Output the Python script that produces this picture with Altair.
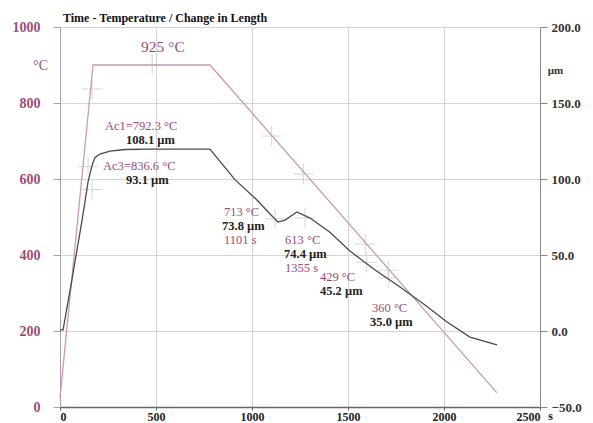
import altair as alt
import pandas as pd

# --- data ---
temp_t = [0, 172, 781, 2276]
temp_T = [24, 900, 900, 37]

len_t = [0, 16, 62, 115, 146, 167, 182, 208, 260, 339, 469, 781, 911, 1026, 1094,
         1135, 1172, 1234, 1302, 1406, 1510, 1641, 1771, 1901, 2016, 2135, 2276]
len_um = [0.7, 0.7, 33.6, 73, 98, 109, 114, 116.4, 118.4, 119.4, 119.7, 119.7, 99.6,
          86.2, 77, 71.7, 73, 78.3, 74.3, 65, 52.6, 40.1, 29, 17.1, 5.9, -4, -9.2]

tcross_t = [167, 480, 1101, 1268, 1590, 1710]
tcross_T = [836.6, 900, 713, 613, 429, 360]

lcross_t = [146, 167, 1120, 1276, 1597, 1710]
lcross_um = [108.1, 93.1, 73.8, 74.4, 45.2, 35.0]

ann_text = ["Ac1=792.3 °C", "108.1 µm", "Ac3=836.6 °C", "93.1 µm",
            "713 °C", "73.8 µm", "1101 s",
            "613 °C", "74.4 µm", "1355 s",
            "429 °C", "45.2 µm",
            "360 °C", "35.0 µm"]
ann_t = [234, 344, 224, 344, 854, 844, 854, 1172, 1167, 1172, 1354, 1354, 1625, 1615]
ann_T = [739, 702, 635, 597, 513, 476, 439, 439, 403, 366, 343, 305, 260, 224]
ann_kind = ["T", "L", "T", "L", "T", "L", "T", "T", "L", "T", "T", "L", "T", "L"]

peak_text = ["925 °C"]
peak_t = [536]
peak_T = [947]

x_ticks = [0, 500, 1000, 1500, 2000, 2500]
t_ticks = [0, 200, 400, 600, 800, 1000]
l_ticks = [-50, 0, 50, 100, 150, 200]

MAUVE = "#9a4d74"
PINK = "#c89ab6"
DARK = "#4a4a4a"
FONT = "Liberation Serif"

temp_df = pd.DataFrame({"t": temp_t, "T": temp_T})
len_df = pd.DataFrame({"t": len_t, "L": len_um})
tc_df = pd.DataFrame({"t": tcross_t, "T": tcross_T})
lc_df = pd.DataFrame({"t": lcross_t, "L": lcross_um})
ann_df = pd.DataFrame({"t": ann_t, "T": ann_T, "txt": ann_text, "kind": ann_kind})
peak_df = pd.DataFrame({"t": peak_t, "T": peak_T, "txt": peak_text})

xscale = alt.Scale(domain=[0, 2500], nice=False)
tscale = alt.Scale(domain=[0, 1000], nice=False)
lscale = alt.Scale(domain=[-50, 200], nice=False)

xaxis = alt.Axis(values=x_ticks, grid=True, gridColor="#d4d4d4", title="s",
                 format="d",
                 titleAngle=0, titleX=490, titleY=3, titleAlign="center",
                 titleBaseline="top", titleFont=FONT, titleFontSize=12,
                 titleFontWeight="bold", titleColor="#222",
                 labelFont=FONT, labelFontSize=12, labelFontWeight="bold",
                 labelColor="#222", tickColor="#666", tickSize=3, labelPadding=1,
                 domainColor="#666", domainWidth=1.5)

taxis = alt.Axis(values=t_ticks, grid=True, gridColor="#d4d4d4", title="°C",
                 format="d",
                 titleAngle=0, titleX=-20, titleY=38, titleAlign="center",
                 titleBaseline="middle", titleFont=FONT, titleFontSize=14,
                 titleFontWeight="normal", titleColor=MAUVE,
                 labelFont=FONT, labelFontSize=14, labelFontWeight="bold",
                 labelColor=MAUVE, tickColor="#b39aa8", tickSize=7,
                 domainColor="#b39aa8", labelPadding=13)

laxis = alt.Axis(values=l_ticks, grid=False, title="µm", orient="right",
                 format=".1f", titleAngle=0, titleX=15, titleY=43,
                 titleAlign="center", titleBaseline="middle", titleFont=FONT,
                 titleFontSize=11, titleFontWeight="bold", titleColor="#333",
                 labelFont=FONT, labelFontSize=13, labelFontWeight="bold",
                 labelColor="#333", tickColor="#888", tickSize=7,
                 domainColor="#888", labelPadding=4)

CROSS = "M-1,0L1,0M0,-1L0,1"

temp_line = alt.Chart(temp_df).mark_line(color=PINK, strokeWidth=1.3).encode(
    x=alt.X("t:Q", scale=xscale, axis=xaxis),
    y=alt.Y("T:Q", scale=tscale, axis=taxis),
)
temp_cross = alt.Chart(tc_df).mark_point(shape=CROSS, size=420, color="#c8c8c8",
                                         strokeWidth=1, filled=False).encode(
    x=alt.X("t:Q", scale=xscale),
    y=alt.Y("T:Q", scale=tscale),
)
ann_T_layer = alt.Chart(ann_df).transform_filter(alt.datum.kind == "T").mark_text(
    align="left", baseline="middle", font=FONT, fontSize=12.5, color=MAUVE).encode(
    x=alt.X("t:Q", scale=xscale),
    y=alt.Y("T:Q", scale=tscale),
    text="txt:N",
)
ann_L_layer = alt.Chart(ann_df).transform_filter(alt.datum.kind == "L").mark_text(
    align="left", baseline="middle", font=FONT, fontSize=12.5, fontWeight="bold",
    color="#222").encode(
    x=alt.X("t:Q", scale=xscale),
    y=alt.Y("T:Q", scale=tscale),
    text="txt:N",
)
peak = alt.Chart(peak_df).mark_text(align="center", baseline="middle", font=FONT,
                                    fontSize=15.5, color=MAUVE).encode(
    x=alt.X("t:Q", scale=xscale),
    y=alt.Y("T:Q", scale=tscale),
    text="txt:N",
)

len_line = alt.Chart(len_df).mark_line(color=DARK, strokeWidth=1.3).encode(
    x=alt.X("t:Q", scale=xscale),
    y=alt.Y("L:Q", scale=lscale, axis=laxis),
)
len_cross = alt.Chart(lc_df).mark_point(shape=CROSS, size=420, color="#c8c8c8",
                                        strokeWidth=1, filled=False).encode(
    x=alt.X("t:Q", scale=xscale),
    y=alt.Y("L:Q", scale=lscale),
)

left = alt.layer(temp_cross, temp_line, ann_T_layer, ann_L_layer, peak)
right = alt.layer(len_cross, len_line)

chart = alt.layer(left, right).resolve_scale(y="independent").properties(
    width=480, height=380,
    autosize=alt.AutoSizeParams(type="none"),
    padding={"left": 52, "top": 19, "right": 45, "bottom": 30},
    title=alt.TitleParams("Time - Temperature  /  Change in Length", anchor="start",
                          frame="group", font=FONT, fontSize=12, fontWeight="bold",
                          color="#111", offset=-5, dx=3),
).configure_view(stroke=None).configure(background="white")

chart.save("out.html", embed_options={"renderer": "svg", "actions": False})
